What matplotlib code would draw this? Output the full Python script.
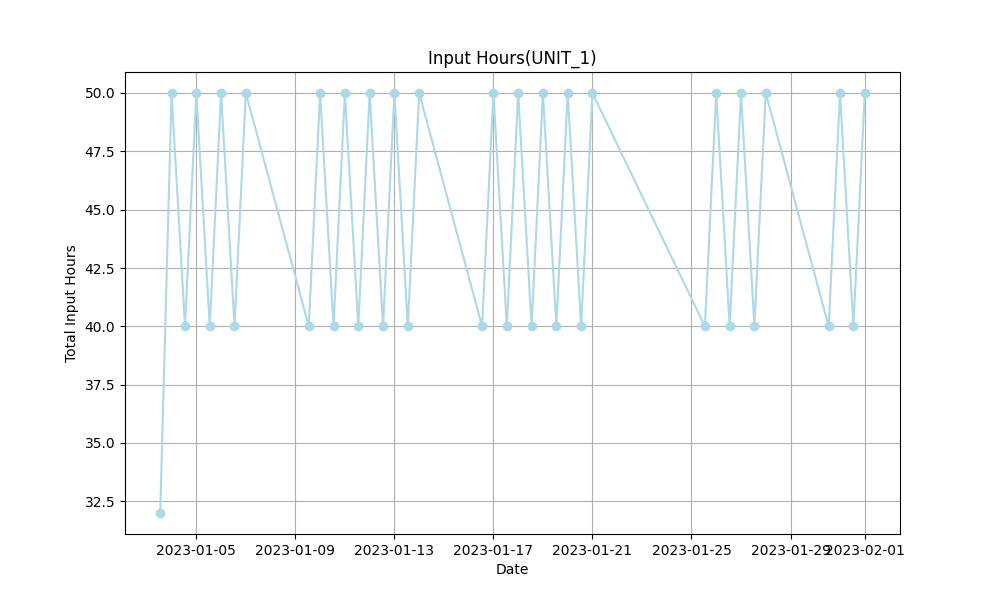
import matplotlib
matplotlib.use("Agg")
import matplotlib.pyplot as plt
import pandas as pd

dates = ["2023-01-03 13:00","2023-01-04","2023-01-04 13:00","2023-01-05","2023-01-05 13:00",
         "2023-01-06","2023-01-06 13:00","2023-01-07",
         "2023-01-09 13:00","2023-01-10","2023-01-10 13:00","2023-01-11","2023-01-11 13:00",
         "2023-01-12","2023-01-12 13:00","2023-01-13","2023-01-13 13:00","2023-01-14",
         "2023-01-16 13:00","2023-01-17","2023-01-17 13:00","2023-01-18","2023-01-18 13:00",
         "2023-01-19","2023-01-19 13:00","2023-01-20","2023-01-20 13:00","2023-01-21",
         "2023-01-25 13:00","2023-01-26","2023-01-26 13:00","2023-01-27","2023-01-27 13:00","2023-01-28",
         "2023-01-30 13:00","2023-01-31","2023-01-31 13:00","2023-02-01"]
hours = [32,50,40,50,40,50,40,50,
         40,50,40,50,40,50,40,50,40,50,
         40,50,40,50,40,50,40,50,40,50,
         40,50,40,50,40,50,
         40,50,40,50]

x = pd.to_datetime(dates, format="mixed")
fig, ax = plt.subplots(figsize=(10, 6), dpi=100)
ax.plot(x, hours, marker="o", color="lightblue")
ax.set_title("Input Hours(UNIT_1)")
ax.set_xlabel("Date")
ax.set_ylabel("Total Input Hours")
ax.grid(True)
fig.savefig("out.png")
